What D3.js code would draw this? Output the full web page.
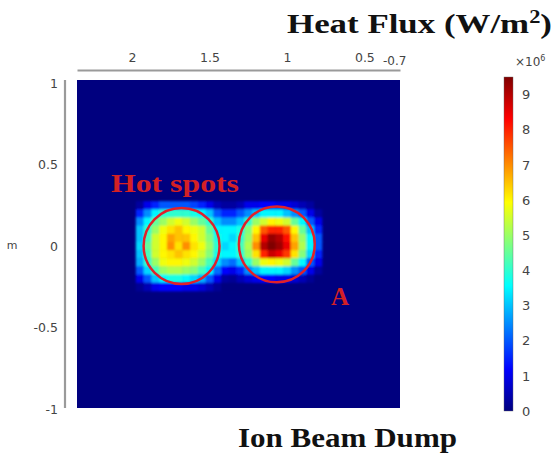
<!DOCTYPE html>
<html>
<head>
<meta charset="utf-8">
<script src="https://cdn.jsdelivr.net/npm/d3@7/dist/d3.min.js"></script>
<style>
  body { margin: 0; background: #fff; }
  svg { display: block; }
</style>
</head>
<body>
<svg id="heatmap"></svg>
<script>
// axis ticks
var xTicks = [2, 1.5, 1, 0.5];
var yTicks = [1, 0.5, 0, -0.5, -1];
var cbarTicks = [0, 1, 2, 3, 4, 5, 6, 7, 8, 9];

// cell centres (m), 0.05 m grid over the beam footprint
var xCells = [1.95, 1.90, 1.85, 1.80, 1.75, 1.70, 1.65, 1.60, 1.55, 1.50, 1.45, 1.40,
              1.35, 1.30, 1.25, 1.20, 1.15, 1.10, 1.05, 1.00, 0.95, 0.90, 0.85, 0.80];
var yCells = [0.25, 0.20, 0.15, 0.10, 0.05, 0, -0.05, -0.10, -0.15, -0.20, -0.25];

// heat flux, x10^6 W/m2 (rows follow yCells, columns follow xCells)
var heatFlux = [
  [0.3,1.0,1.5,2.0,2.0,2.0,2.0,1.8,1.5,1.0,0.5,0.3,0.3,0.5,1.0,1.0,1.2,1.2,1.0,1.0,0.8,0.5,0.3,0.0],
  [1.5,2.5,3.5,4.0,4.0,4.0,4.0,3.8,3.5,3.0,2.0,1.5,1.5,2.0,2.5,3.0,3.5,3.5,3.5,3.0,2.5,2.0,1.0,0.3],
  [2.5,3.5,4.5,5.0,5.5,5.8,5.5,5.0,4.5,4.0,3.0,2.5,2.5,3.0,4.0,5.0,5.5,6.0,5.8,5.5,4.5,3.5,2.0,1.0],
  [3.0,4.0,5.0,5.8,6.2,6.5,6.0,5.8,5.5,4.5,3.5,3.5,3.5,3.8,4.8,6.0,7.5,8.0,8.0,7.5,6.0,4.5,3.0,1.5],
  [3.0,4.2,5.5,6.0,6.8,6.5,6.5,6.0,5.5,4.8,3.8,3.5,3.2,4.0,5.0,6.5,8.5,9.3,9.0,8.2,6.5,5.0,3.5,2.0],
  [3.2,4.5,5.5,6.0,7.0,6.2,7.0,6.2,5.8,5.0,4.0,3.2,3.5,4.2,5.2,7.0,9.0,9.6,9.2,8.5,6.8,5.2,3.5,2.0],
  [3.0,4.2,5.5,6.0,6.2,6.5,6.2,6.0,5.5,4.8,3.8,3.5,3.5,4.0,5.0,6.2,8.0,8.8,8.5,7.8,6.2,4.8,3.2,1.5],
  [2.8,4.0,5.0,5.8,6.0,6.0,5.8,5.5,5.0,4.2,3.2,2.5,2.2,3.0,4.0,5.0,5.8,6.0,5.8,5.5,4.5,3.5,2.0,1.0],
  [2.0,3.2,4.2,5.0,5.2,5.2,5.0,4.8,4.2,3.5,2.2,1.2,1.0,1.5,2.5,3.0,3.5,3.5,3.5,3.2,2.5,2.0,1.0,0.3],
  [1.0,2.0,3.0,3.5,3.8,3.8,3.5,3.2,2.8,2.0,1.0,0.3,0.2,0.5,0.8,1.0,1.2,1.2,1.0,1.0,0.8,0.5,0.2,0.0],
  [0.2,0.5,1.0,1.2,1.2,1.2,1.0,1.0,0.8,0.5,0.2,0.0,0.0,0.0,0.0,0.0,0.0,0.0,0.0,0.0,0.0,0.0,0.0,0.0]
];

// circled hot spots (centre in m)
var hotSpotX = [1.68, 1.065];
var hotSpotY = [0, 0.01];

// jet colour map
var jetStops = [0, 0.125, 0.375, 0.625, 0.875, 1];
var jetColors = ["#00007f", "#0000ff", "#00ffff", "#ffff00", "#ff0000", "#7f0000"];
var fluxMax = 9.5;

var dims = {
  width: 555,
  height: 457,
  plot: { left: 77, right: 400, top: 80, bottom: 408 },
  cbar: { left: 504, width: 9, top: 77, bottom: 411 }
};

var svg = d3.select("#heatmap")
            .attr("width", dims.width)
            .attr("height", dims.height);

var xScale = d3.scaleLinear()
               .domain([2.355, 0.27])
               .range([dims.plot.left, dims.plot.right]);

var yScale = d3.scaleLinear()
               .domain([1, -1])
               .range([83, 409]);

var colorScale = d3.scaleLinear()
                   .domain(jetStops.map(s => s * fluxMax))
                   .range(jetColors)
                   .clamp(true);

var cellStep = 0.05;
var plainNum = d => String(d);   // keep ascii hyphen like the original

// background = zero flux
svg.append("rect")
   .attr("x", dims.plot.left)
   .attr("y", dims.plot.top)
   .attr("width", dims.plot.right - dims.plot.left)
   .attr("height", dims.plot.bottom - dims.plot.top)
   .attr("fill", colorScale(0));

// soften the cells a little, like the rendered surface
var defs = svg.append("defs");
defs.append("filter")
    .attr("id", "soft")
    .attr("x", "-10%").attr("y", "-10%")
    .attr("width", "120%").attr("height", "120%")
    .append("feGaussianBlur")
    .attr("stdDeviation", 1.1);

var cells = [];
heatFlux.forEach((row, i) => {
  row.forEach((v, j) => {
    cells.push({ x: xCells[j], y: yCells[i], v: v });
  });
});

svg.append("g")
   .attr("filter", "url(#soft)")
   .selectAll("rect")
   .data(cells)
   .enter()
   .append("rect")
   .attr("x", d => xScale(d.x + cellStep / 2))
   .attr("y", d => yScale(d.y + cellStep / 2))
   .attr("width", d => xScale(d.x - cellStep / 2) - xScale(d.x + cellStep / 2) + 0.5)
   .attr("height", d => yScale(d.y - cellStep / 2) - yScale(d.y + cellStep / 2) + 0.5)
   .attr("fill", d => colorScale(d.v));

// hot spot circles
var spotR = xScale(0) - xScale(0.245);
svg.append("g")
   .selectAll("circle")
   .data(hotSpotX)
   .enter()
   .append("circle")
   .attr("cx", d => xScale(d))
   .attr("cy", (d, i) => yScale(hotSpotY[i]))
   .attr("r", spotR)
   .attr("fill", "none")
   .attr("stroke", "#e0202a")
   .attr("stroke-width", 2.5);

// axes (lines only, no tick marks)
var axisColor = "#9a9a9a";
var labelColor = "#444";

var xAxis = svg.append("g")
   .attr("transform", "translate(0,70)")
   .call(d3.axisTop(xScale).tickValues(xTicks).tickSize(0).tickPadding(8).tickFormat(plainNum));
var yAxis = svg.append("g")
   .attr("transform", "translate(65,0)")
   .call(d3.axisLeft(yScale).tickValues(yTicks).tickSize(0).tickPadding(7).tickFormat(plainNum));

[xAxis, yAxis].forEach(ax => {
  ax.select(".domain").attr("stroke", axisColor).attr("stroke-width", 2.2);
  ax.selectAll("text")
    .attr("fill", labelColor)
    .style("font-family", "'DejaVu Sans', sans-serif")
    .style("font-size", "12.5px");
});
yAxis.select(".domain").attr("d", "M0," + dims.plot.top + "V" + dims.plot.bottom);

svg.append("text")
   .attr("x", 383)
   .attr("y", 65)
   .attr("fill", labelColor)
   .style("font-family", "'DejaVu Sans', sans-serif")
   .style("font-size", "12px")
   .text("-0.7");

svg.append("text")
   .attr("x", 12)
   .attr("y", 249)
   .attr("text-anchor", "middle")
   .attr("fill", labelColor)
   .style("font-family", "'DejaVu Sans', sans-serif")
   .style("font-size", "11px")
   .text("m");

// colour bar
var cbScale = d3.scaleLinear()
                .domain([0, fluxMax])
                .range([dims.cbar.bottom, dims.cbar.top]);

var grad = defs.append("linearGradient")
               .attr("id", "jet")
               .attr("x1", 0).attr("y1", 1)
               .attr("x2", 0).attr("y2", 0);
grad.selectAll("stop")
    .data(jetStops)
    .enter()
    .append("stop")
    .attr("offset", d => d)
    .attr("stop-color", (d, i) => jetColors[i]);

svg.append("rect")
   .attr("x", dims.cbar.left)
   .attr("y", cbScale(fluxMax))
   .attr("width", dims.cbar.width)
   .attr("height", cbScale(0) - cbScale(fluxMax))
   .attr("fill", "url(#jet)")
   .attr("stroke", "#666")
   .attr("stroke-width", 0.4);

var cbAxis = svg.append("g")
   .attr("transform", "translate(" + (dims.cbar.left + dims.cbar.width) + ",0)")
   .call(d3.axisRight(cbScale).tickValues(cbarTicks).tickSize(0).tickPadding(9).tickFormat(plainNum));
cbAxis.select(".domain").remove();
cbAxis.selectAll("text")
      .attr("fill", labelColor)
      .style("font-family", "'DejaVu Sans', sans-serif")
      .style("font-size", "13px");

var expo = svg.append("text")
   .attr("x", 515)
   .attr("y", 66)
   .attr("fill", labelColor)
   .style("font-family", "'DejaVu Sans', sans-serif")
   .style("font-size", "12px")
   .text("\u00d710");
expo.append("tspan")
    .attr("dy", -5)
    .style("font-size", "8px")
    .text("6");

// annotations
var serif = "'Liberation Serif', 'Times New Roman', serif";

var title = svg.append("text")
   .attr("x", 287)
   .attr("y", 33)
   .attr("fill", "#111")
   .attr("textLength", 265)
   .attr("lengthAdjust", "spacingAndGlyphs")
   .style("font-family", serif)
   .style("font-weight", "bold")
   .style("font-size", "28px")
   .text("Heat Flux  (W/m");
title.append("tspan").attr("dy", -10).style("font-size", "18px").text("2");
title.append("tspan").attr("dy", 10).text(")");

svg.append("text")
   .attr("x", 111)
   .attr("y", 192)
   .attr("fill", "#d42025")
   .attr("textLength", 128)
   .attr("lengthAdjust", "spacingAndGlyphs")
   .style("font-family", serif)
   .style("font-weight", "bold")
   .style("font-size", "26px")
   .text("Hot spots");

svg.append("text")
   .attr("x", 331)
   .attr("y", 305)
   .attr("fill", "#d42025")
   .style("font-family", serif)
   .style("font-weight", "bold")
   .style("font-size", "25px")
   .text("A");

svg.append("text")
   .attr("x", 238)
   .attr("y", 447)
   .attr("fill", "#111")
   .attr("textLength", 219)
   .attr("lengthAdjust", "spacingAndGlyphs")
   .style("font-family", serif)
   .style("font-weight", "bold")
   .style("font-size", "28px")
   .text("Ion Beam Dump");
</script>
</body>
</html>
